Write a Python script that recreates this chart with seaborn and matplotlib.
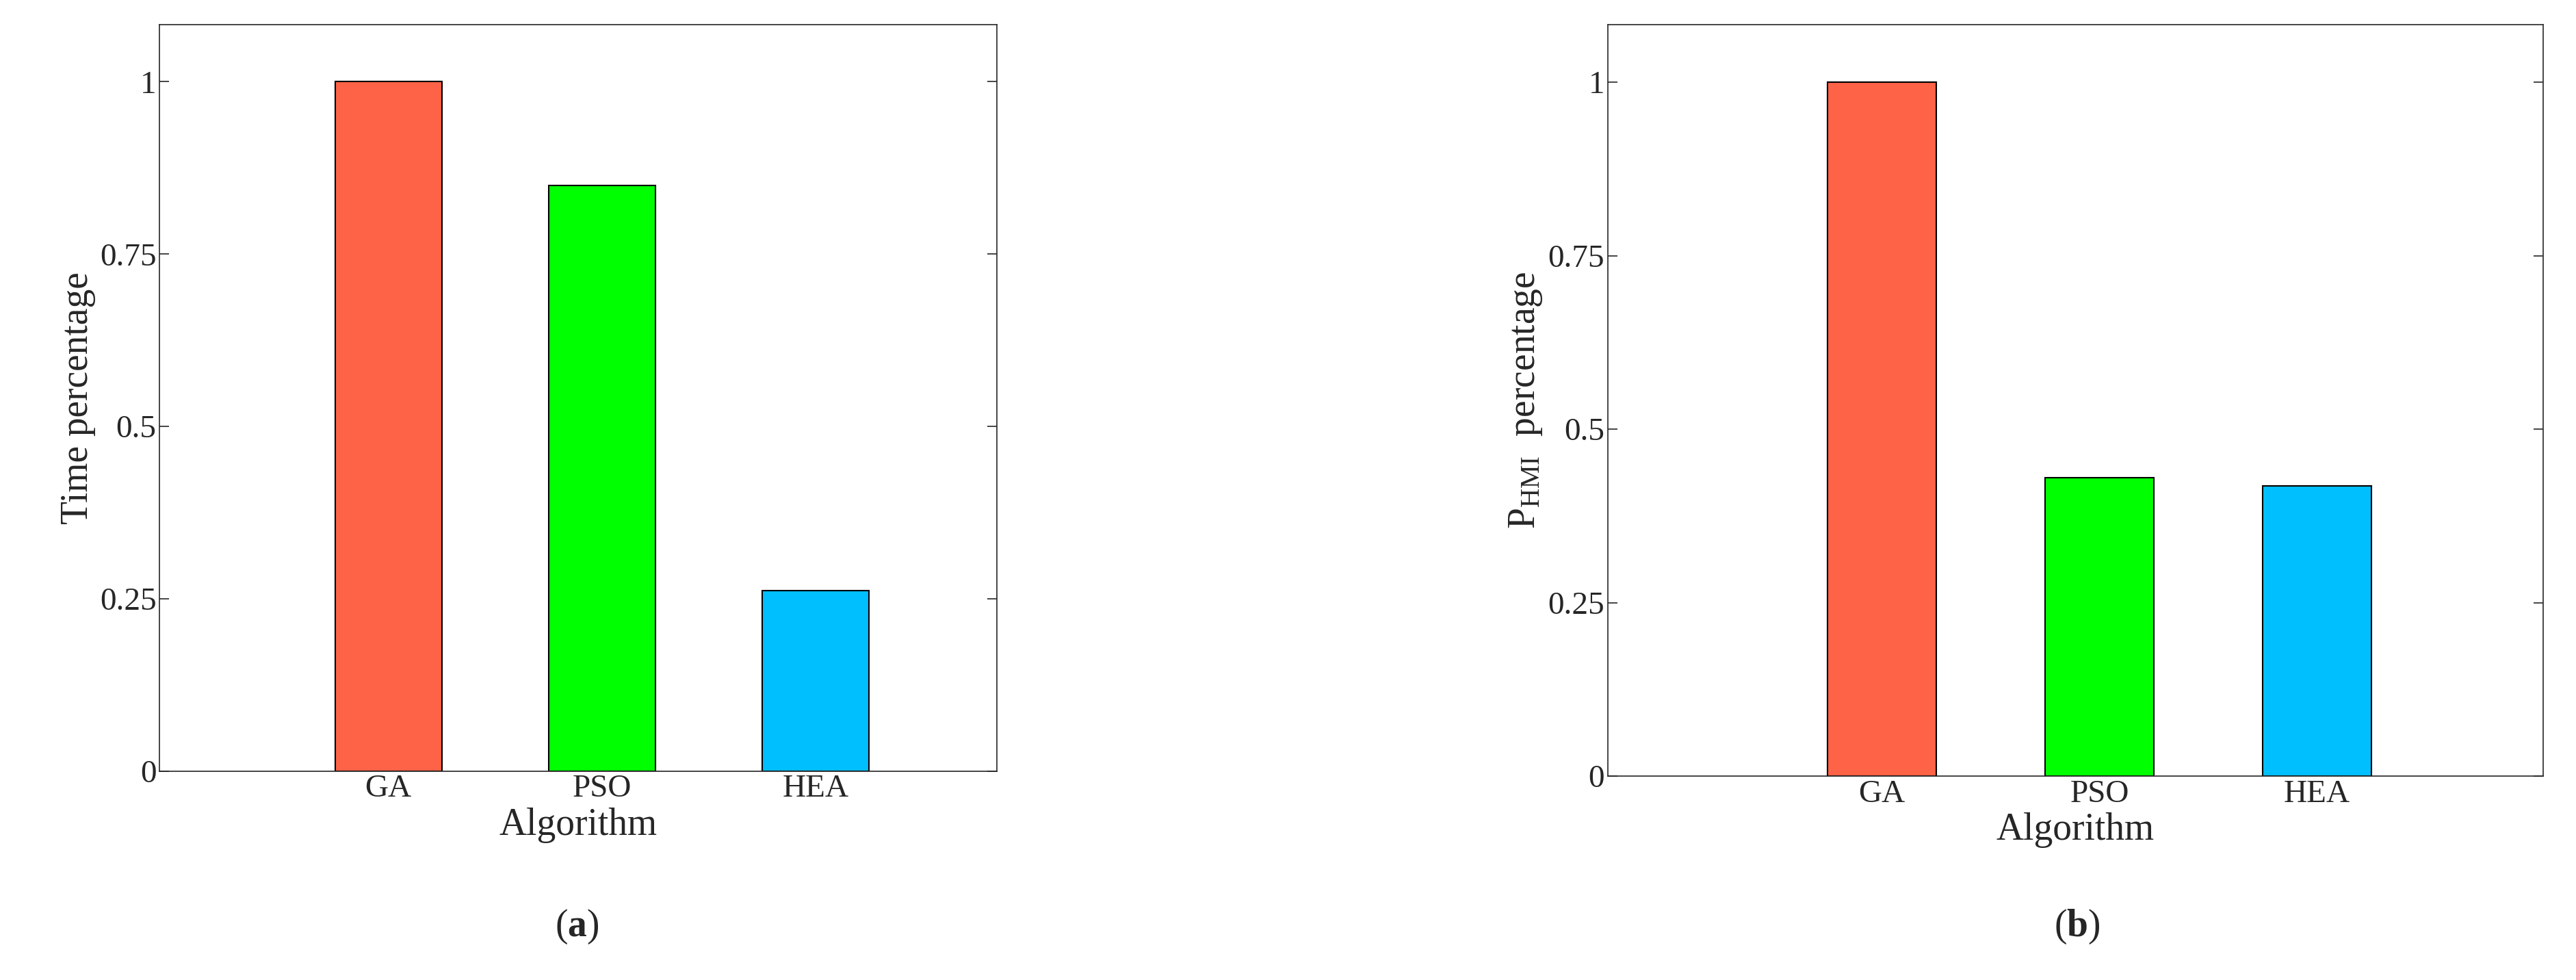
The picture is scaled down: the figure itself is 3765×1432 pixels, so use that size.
import matplotlib
matplotlib.use("Agg")
import matplotlib.pyplot as plt
import seaborn as sns
import pandas as pd

sns.set_style("white")
plt.rcParams['font.family'] = ['Liberation Serif', 'DejaVu Serif']
plt.rcParams['mathtext.fontset'] = 'custom'
plt.rcParams['mathtext.rm'] = 'Liberation Serif'
plt.rcParams['mathtext.it'] = 'Liberation Serif:italic'
plt.rcParams['mathtext.bf'] = 'Liberation Serif:bold'

algorithms = ["GA", "PSO", "HEA"]
time_pct = [1.0, 0.85, 0.262]
phmi_pct = [1.0, 0.43, 0.418]
colors = ["#FF6347", "#00FF00", "#00BFFF"]
yticks = [0, 0.25, 0.5, 0.75, 1]
yticklabels = ["0", "0.25", "0.5", "0.75", "1"]

fig = plt.figure(figsize=(37.66, 14.32), dpi=100)
ax1 = fig.add_axes([0.062, 0.213, 0.325, 0.762])
ax2 = fig.add_axes([0.624, 0.208, 0.363, 0.767])

tick_fs = 34
lab_fs = 40

def draw(ax, vals, ylabel, xlim):
    df = pd.DataFrame({"Algorithm": algorithms, "v": vals})
    sns.barplot(data=df, x="Algorithm", y="v", hue="Algorithm", palette=colors,
                width=0.5, edgecolor="black", linewidth=1.5, legend=False, ax=ax, saturation=1)
    ax.set_xlim(*xlim)
    ax.set_ylim(0, 1.083)
    ax.set_yticks(yticks)
    ax.set_yticklabels(yticklabels)
    ax.set_xlabel("Algorithm", fontsize=lab_fs, color="#262626", labelpad=4)
    ax.set_ylabel(ylabel, fontsize=lab_fs, color="#262626")
    ax.tick_params(axis='both', direction='in', labelsize=tick_fs, colors="#262626",
                   length=10, width=1.2, right=True, left=True, bottom=True, top=False)
    for s in ax.spines.values():
        s.set_visible(True)
        s.set_color("#262626")
        s.set_linewidth(1.2)

draw(ax1, time_pct, "Time percentage", (-1.07, 2.85))
draw(ax2, phmi_pct, r"P$_{\mathrm{HMI}}$  percentage", (-1.26, 3.04))

fig.text(0.224, 0.045, r"($\mathbf{a}$)", fontsize=lab_fs, ha="center")
fig.text(0.806, 0.045, r"($\mathbf{b}$)", fontsize=lab_fs, ha="center")

fig.savefig("out.png", dpi=100, facecolor="white")
